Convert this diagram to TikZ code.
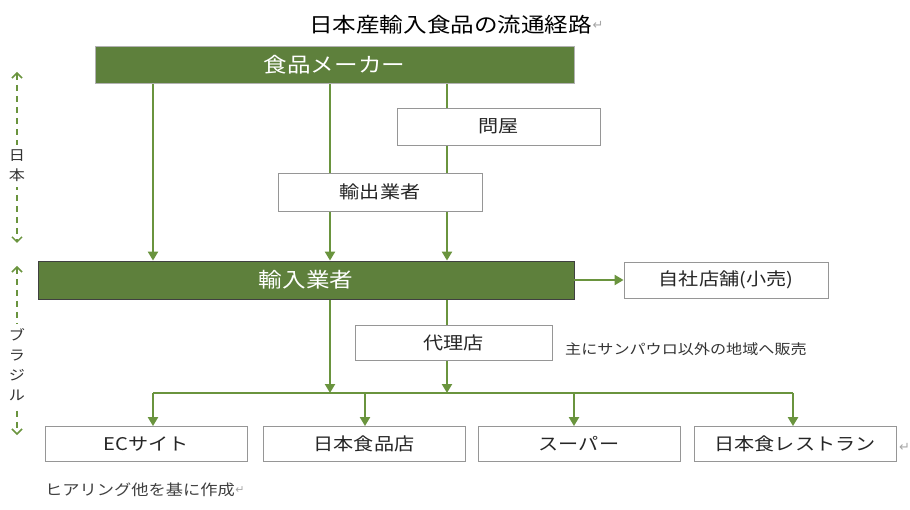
\documentclass[tikz,border=0pt]{standalone}
\usepackage{fontspec}
\newfontfamily\jp[FakeStretch=1.15]{Noto Sans CJK JP}
\newfontfamily\djv{DejaVu Sans}
\usetikzlibrary{arrows.meta,backgrounds}
\definecolor{gfill}{RGB}{94,128,60}
\definecolor{gline}{RGB}{106,148,62}
\definecolor{bgrey}{RGB}{150,150,150}
\tikzset{
  wbox/.style={draw=bgrey, line width=0.8pt, fill=white, inner sep=0pt, font=\jp\fontsize{17.5}{20}\selectfont, text=black!85},
  gbox/.style={draw=gray!60, line width=0.8pt, fill=gfill, inner sep=0pt, font=\jp\fontsize{20.5}{22}\selectfont, text=white},
  flow/.style={draw=gline, line width=2.2pt, -{Triangle[width=10pt,length=9pt]}},
  plain/.style={draw=gline, line width=2.2pt},
  span/.style={draw=gline, line width=1.3pt, dash pattern=on 6pt off 5pt, {Straight Barb[width=10pt,length=5pt,line width=1.5pt]}-{Straight Barb[width=10pt,length=5pt,line width=1.5pt]}},
  lbl/.style={font=\jp\fontsize{14}{20}\selectfont, text=black!80, align=center, inner sep=0pt},
  ret/.style={font=\djv\fontsize{13}{14}\selectfont, text=gray!70, inner sep=0pt}
}
\begin{document}
\begin{tikzpicture}[x=1pt,y=-1pt]
\useasboundingbox (0,0) rectangle (910,510);
% title
\node[font=\jp\fontsize{20.5}{22}\selectfont, inner sep=0pt, anchor=west] (title) at (309,25) {日本産輸入食品の流通経路};
\node[ret, anchor=west] (tret) at (title.east) {↵};
% boxes
\node[gbox, minimum width=479pt, minimum height=37pt] (maker) at (334.5,64.5) {食品メーカー};
\node[wbox, minimum width=203pt, minimum height=37pt] (tonya) at (498.5,126.5) {問屋};
\node[wbox, minimum width=204pt, minimum height=38pt] (exporter) at (380,192) {輸出業者};
\node[gbox, draw=black!75, minimum width=536pt, minimum height=38pt] (importer) at (306,280) {輸入業者};
\node[wbox, minimum width=204pt, minimum height=36pt] (jisha) at (726,280) {自社店舗(小売)};
\node[wbox, minimum width=197pt, minimum height=35pt] (dairi) at (453.5,342.5) {代理店};
\node[lbl, anchor=west, font=\jp\fontsize{14}{16}\selectfont] (note) at (565,349) {主にサンパウロ以外の地域へ販売};
\node[wbox, minimum width=202pt, minimum height=35pt] (ec) at (146,444) {ECサイト};
\node[wbox, minimum width=202pt, minimum height=35pt] (shop) at (364,444) {日本食品店};
\node[wbox, minimum width=202pt, minimum height=35pt] (super) at (579,444) {スーパー};
\node[wbox, minimum width=202pt, minimum height=35pt] (rest) at (795,444) {日本食レストラン};
\node[ret, anchor=west] (bret) at (899,447) {↵};
\node[font=\jp\fontsize{15}{16}\selectfont, text=black!75, inner sep=0pt, anchor=west] (src) at (45,490) {ヒアリング他を基に作成};
\node[ret, anchor=west, font=\djv\fontsize{11}{12}\selectfont] (sret) at (src.east) {↵};
% column coordinates
\coordinate (c1) at (153,0);
\coordinate (c2) at (330,0);
\coordinate (c3) at (447,0);
\coordinate (bus) at (0,393);
\coordinate (d1) at (153,0);
\coordinate (d2) at (365,0);
\coordinate (d3) at (574,0);
\coordinate (d4) at (793,0);
% side spans
\coordinate (jtop) at (17,72);
\coordinate (jbot) at (17,243);
\coordinate (btop) at (17,266);
\coordinate (bbot) at (17,435);
\draw[span] (jtop) -- (jbot);
\draw[span] (btop) -- (bbot);
\node[lbl, fill=white, inner xsep=4pt, inner ysep=5pt] (jp) at (17,166) {日\\本};
\node[lbl, fill=white, inner xsep=4pt, inner ysep=5pt] (br) at (17,365) {ブ\\ラ\\ジ\\ル};
\begin{scope}[on background layer]
\draw[flow] (maker.south -| c1) -- (importer.north -| c1);
\draw[flow] (maker.south -| c2) -- (importer.north -| c2);
\draw[flow] (maker.south -| c3) -- (importer.north -| c3);
\draw[flow] (importer.south -| c2) -- (bus -| c2);
\draw[flow] (importer.south -| c3) -- (bus -| c3);
\end{scope}
\draw[flow] (importer.east) -- (jisha.west);
\draw[plain] (bus -| d1) -- (bus -| d4);
\draw[flow] (bus -| d1) -- (ec.north -| d1);
\draw[flow] (bus -| d2) -- (shop.north -| d2);
\draw[flow] (bus -| d3) -- (super.north -| d3);
\draw[flow] (bus -| d4) -- (rest.north -| d4);
\end{tikzpicture}
\end{document}
